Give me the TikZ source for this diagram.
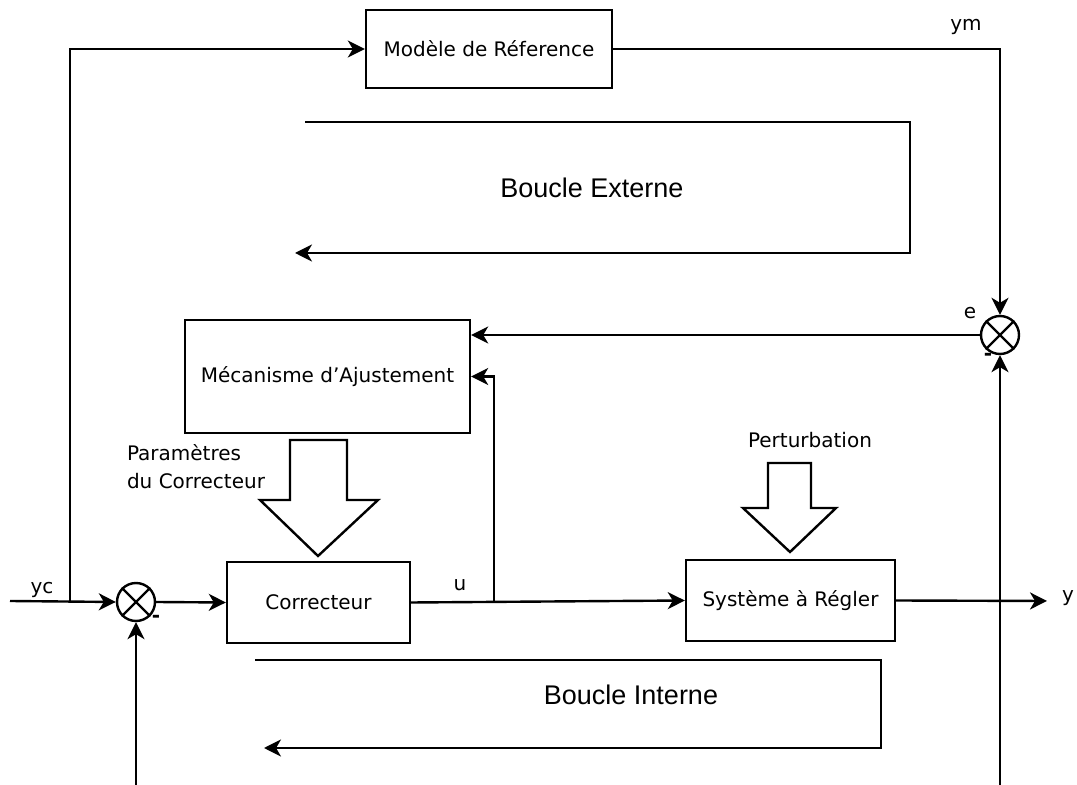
\documentclass[tikz,border=0pt]{standalone}
\usepackage{fontspec}
\setmainfont{DejaVu Sans}
\newfontfamily\loopfont{Liberation Sans}
\usetikzlibrary{arrows.meta}
\tikzset{
  bloc/.style={draw, line width=1.2pt, align=center, font=\fontsize{10}{12}\selectfont},
  somme/.style={draw, circle, line width=1.2pt, minimum size=19pt, inner sep=0pt},
  lbl/.style={font=\fontsize{10}{14}\selectfont, inner sep=1pt},
  boucle/.style={font=\loopfont\fontsize{13.5}{16}\selectfont},
  fleche/.style={draw, line width=1.2pt, fill=white, line join=miter}
}
\begin{document}
\begin{tikzpicture}[x=0.5pt, y=-0.5pt, line width=1.2pt, >={Stealth[length=8.5pt,width=8.5pt,inset=2.5pt]}]
\useasboundingbox (0,0) rectangle (1077,785);

\node[bloc, minimum width=123pt, minimum height=39pt] (ref) at (489,49) {Modèle de Réference};
\node[bloc, minimum width=142.5pt, minimum height=56.5pt] (adj) at (327.5,376.5) {Mécanisme d'Ajustement};
\node[bloc, minimum width=91.5pt, minimum height=40.5pt] (corr) at (318.5,602.5) {Correcteur};
\node[bloc, minimum width=104.5pt, minimum height=40.5pt] (sys) at (790.5,600.5) {Système à Régler};
\node[somme] (s1) at (136,602) {};
\node[somme] (s2) at (1000,335) {};
\draw (s1.north west) -- (s1.south east) (s1.north east) -- (s1.south west);
\draw (s2.north west) -- (s2.south east) (s2.north east) -- (s2.south west);

\coordinate (yc) at (10,601);
\coordinate (b1) at (70,601);
\coordinate (b2) at (494,602);
\coordinate (yout) at (1047,601);
\coordinate (fb1) at (136,785);
\coordinate (fb2) at (1000,785);

\node[lbl] (lyc) at (42,590) {yc};
\node[lbl] (lu) at (460,585) {u};
\node[lbl] (ly) at (1068,598) {y};
\node[lbl] (lym) at (966,27) {ym};
\node[lbl] (le) at (970,313) {e};
\node[lbl] (m1) at (156,619) {\textbf{-}};
\node[lbl] (m2) at (988,357) {\textbf{-}};
\node[lbl, align=left] (lpar) at (196,467) {Paramètres\\du Correcteur};
\node[lbl] (lpert) at (810,440) {Perturbation};
\node[boucle] (lext) at (592,188) {Boucle Externe};
\node[boucle] (lint) at (631,695) {Boucle Interne};

\draw[->] (yc) -- (s1.west);
\draw[->] (b1) |- (ref.west);
\draw[->] (ref.east) -| (s2.north);
\draw[->] (s2.west) -- (s2.west -| adj.east);
\draw[->] (s1.east) -- (corr.west);
\draw[->] (corr.east) -- (sys.west);
\draw[->] (b2) |- (adj.east);
\draw[->] (sys.east) -- (yout);
\draw[->] (fb1) -- (s1.south);
\draw[->] (fb2) -- (s2.south);

\draw[->] (305,122) -- (910,122) -- (910,253) -- (295,253);
\draw[->] (255,660) -- (881,660) -- (881,748) -- (264,748);

\draw[fleche] (290,440) -- (347,440) -- (347,500) -- (378,500) -- (318,556) -- (260,500) -- (290,500) -- cycle;
\draw[fleche] (768,463) -- (811,463) -- (811,508) -- (836,508) -- (790,552) -- (743,508) -- (768,508) -- cycle;
\end{tikzpicture}
\end{document}
